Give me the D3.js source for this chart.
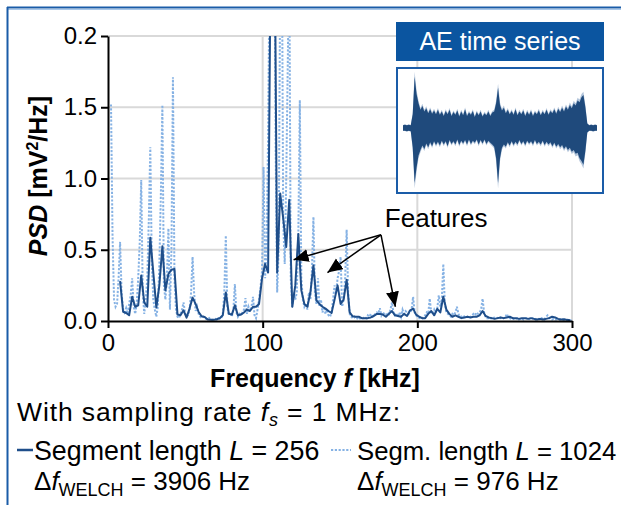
<!DOCTYPE html>
<html><head><meta charset="utf-8">
<script src="https://cdn.jsdelivr.net/npm/d3@7"></script>
<style>
html,body{margin:0;padding:0;background:#fff;}
svg{display:block;font-family:"Liberation Sans",Arial,sans-serif;}
</style></head>
<body><svg id="c" width="621" height="505"></svg>
<script>
// ---------- data ----------
// solid series (L = 256): bins k*1.953 kHz, starting at k = 4
const solidStartBin = 4;
const solidBinKHz = 1000/512;
const solidValues = [
 0.28,0.065,0.056,0.04,0.17,0.10,0.11,0.32,0.13,0.10,
 0.585,0.34,0.094,0.25,0.525,0.215,0.33,0.36,0.365,0.045,
 0.04,0.075,0.023,0.087,0.164,0.12,0.063,0.033,0.028,0.01,
 0.008,0.008,0.012,0.02,0.04,0.2,0.05,0.045,0.11,0.04,
 0.045,0.06,0.08,0.07,0.1,0.1,0.12,0.30,0.40,0.34,
 3.0,3.2,0.34,0.895,0.72,0.52,0.85,0.10,0.25,0.61,
 0.215,0.12,0.10,0.2,0.39,0.145,0.12,0.1,0.087,0.07,
 0.056,0.15,0.25,0.12,0.15,0.29,0.06,0.033,0.03,0.03,
 0.02,0.02,0.02,0.025,0.035,0.05,0.05,0.045,0.03,0.05,
 0.07,0.04,0.035,0.03,0.05,0.035,0.075,0.087,0.045,0.03,
 0.02,0.02,0.05,0.07,0.04,0.085,0.06,0.17,0.08,0.05,
 0.03,0.04,0.03,0.02,0.025,0.03,0.025,0.03,0.03,0.04,
 0.07,0.035,0.025,0.02,0.015,0.02,0.025,0.02,0.025,0.03,
 0.02,0.02,0.015,0.02,0.02,0.015,0.02,0.015,0.01,0.015,
 0.01,0.015,0.02,0.03,0.025,0.015,0.01,0.012,0.008,0.006
];
// dotted series (L = 1024): bins i*0.977 kHz, starting at i = 2
const dottedStartBin = 2;
const dottedBinKHz = 1000/1024;
const dottedValues = [
 1.52,0.6,0.15,0.10,0.12,0.3,0.555,0.2,
 0.08,0.06,0.09,0.05,0.12,0.18,0.30,0.1,0.05,0.12,
 0.3,0.55,0.99,0.2,0.05,0.15,0.3,0.7,1.22,0.4,
 0.15,0.08,0.03,0.1,0.4,0.89,1.515,0.25,0.15,0.3,
 0.65,0.08,0.5,1.71,0.3,0.08,0.03,0.02,0.05,0.08,
 0.13,0.06,0.03,0.04,0.08,0.2,0.45,0.2,0.07,0.1,
 0.05,0.03,0.02,0.03,0.02,0.015,0.01,0.02,0.01,0.008,
 0.01,0.015,0.01,0.02,0.015,0.02,0.05,0.2,0.6,0.1,
 0.04,0.06,0.03,0.08,0.26,0.06,0.03,0.05,0.04,0.06,
 0.08,0.16,0.05,0.1,0.07,0.1,0.17,0.04,0.02,0.08,
 0.15,0.24,0.35,1.08,0.3,0.52,1.3,2.5,3.0,2.2,
 3.0,1.2,0.2,0.5,2.4,3.0,0.7,0.4,0.99,1.8,
 2.6,0.3,0.1,0.2,0.15,0.2,0.6,1.55,0.3,0.15,
 0.1,0.12,0.08,0.2,0.15,0.35,0.73,0.2,0.12,0.3,
 0.1,0.15,0.06,0.1,0.05,0.08,0.04,0.03,0.06,0.15,
 0.25,0.2,0.3,0.35,0.45,0.1,0.15,0.3,0.64,0.2,
 0.05,0.03,0.02,0.03,0.015,0.02,0.01,0.02,0.015,0.02,
 0.03,0.02,0.04,0.03,0.05,0.03,0.04,0.05,0.06,0.05,
 0.09,0.04,0.06,0.05,0.04,0.06,0.05,0.08,0.13,0.06,
 0.04,0.05,0.04,0.06,0.03,0.08,0.05,0.07,0.06,0.05,
 0.06,0.08,0.17,0.06,0.04,0.03,0.02,0.03,0.02,0.03,
 0.04,0.06,0.05,0.157,0.06,0.05,0.08,0.06,0.09,0.18,
 0.1,0.15,0.40,0.12,0.06,0.05,0.04,0.03,0.05,0.04,
 0.06,0.10,0.05,0.03,0.03,0.04,0.03,0.025,0.03,0.02,
 0.03,0.04,0.05,0.04,0.06,0.05,0.06,0.08,0.157,0.06,
 0.03,0.02,0.02,0.015,0.02,0.03,0.02,0.025,0.02,0.03,
 0.02,0.015,0.02,0.025,0.05,0.03,0.02,0.015,0.02,0.01,
 0.015,0.02,0.01,0.015,0.02,0.01,0.015,0.02,0.01,0.015,
 0.01,0.02,0.015,0.01,0.02,0.015,0.01,0.02,0.015,0.01,
 0.03,0.04,0.02,0.015,0.01,0.015,0.01,0.012,0.008,0.01,
 0.008,0.01,0.006,0.008,0.005,0.007,0.005,0.004
];
const xTicks = [0,100,200,300];
const xTickLabels = ["0","100","200","300"];
const yTicks = [0,0.5,1.0,1.5,2.0];
const yTickLabels = ["0.0","0.5","1.0","1.5","0.2"];
// inset AE time series envelope (upper / lower magnitude)
const waveUpper = [0.05,0.06,0.05,0.06,0.05,0.25,0.93,0.62,0.45,0.33,0.4,0.3,0.36,0.27,0.34,0.26,0.32,0.25,0.33,0.24,
 0.3,0.22,0.31,0.25,0.33,0.22,0.29,0.24,0.32,0.21,0.3,0.23,0.34,0.22,0.28,0.24,0.31,0.2,0.29,0.23,
 0.3,0.21,0.27,0.23,0.3,0.22,0.28,0.3,0.45,0.73,0.42,0.32,0.37,0.27,0.33,0.25,0.31,0.24,0.34,0.23,
 0.3,0.25,0.32,0.22,0.3,0.24,0.31,0.22,0.29,0.25,0.32,0.23,0.3,0.25,0.33,0.24,0.31,0.27,0.34,0.26,
 0.35,0.29,0.37,0.3,0.39,0.33,0.42,0.36,0.45,0.41,0.5,0.47,0.56,0.6,0.38,0.08,0.05,0.06,0.05,0.06,0.05];
const waveLower = [0.05,0.05,0.06,0.05,0.06,0.35,1.0,0.72,0.5,0.4,0.32,0.38,0.28,0.35,0.26,0.33,0.24,0.31,0.25,0.32,
 0.23,0.3,0.24,0.33,0.22,0.29,0.24,0.3,0.21,0.31,0.23,0.28,0.22,0.3,0.21,0.29,0.23,0.27,0.21,0.3,
 0.22,0.28,0.21,0.29,0.23,0.27,0.3,0.34,0.55,1.0,0.55,0.36,0.3,0.34,0.26,0.32,0.24,0.31,0.25,0.3,
 0.22,0.29,0.24,0.31,0.23,0.28,0.24,0.3,0.22,0.29,0.25,0.3,0.23,0.31,0.25,0.3,0.26,0.33,0.27,0.34,
 0.29,0.35,0.31,0.38,0.33,0.4,0.36,0.43,0.4,0.47,0.45,0.55,0.6,0.67,0.42,0.08,0.05,0.05,0.06,0.05,0.05];
const featureLabel = "Features";
const featureTextPos = {f:179, v:0.66};
const featureFrom = {f:176.5, v:0.605};
const featureTargets = [{f:120,v:0.43},{f:141.9,v:0.34},{f:185.8,v:0.10}];

// ---------- setup ----------
const svg = d3.select("#c");
const C_SOLID = "#1f4e8a", C_DOT = "#86b2e4", C_FRAME = "#1a5ca8", FONT = 24;
const x = d3.scaleLinear().domain([0,300]).range([108,572]);
const y = d3.scaleLinear().domain([0,2]).range([321,36]);

// frame
svg.append("line").attr("x1",7).attr("x2",621).attr("y1",7.5).attr("y2",7.5).attr("stroke",C_FRAME).attr("stroke-width",2);
svg.append("line").attr("x1",7).attr("x2",621).attr("y1",9.5).attr("y2",9.5).attr("stroke","#a9c8ea").attr("stroke-width",1);
svg.append("line").attr("x1",7.5).attr("x2",7.5).attr("y1",7).attr("y2",505).attr("stroke",C_FRAME).attr("stroke-width",2);

// grid
const g = svg.append("g");
g.selectAll(".hg").data(yTicks.slice(1)).join("line")
 .attr("x1",x(0)).attr("x2",x(300)).attr("y1",d=>y(d)).attr("y2",d=>y(d))
 .attr("stroke","#d9d9d9").attr("stroke-width",2);
g.selectAll(".vg").data(xTicks.slice(1)).join("line")
 .attr("x1",d=>x(d)).attr("x2",d=>x(d)).attr("y1",y(0)).attr("y2",y(2))
 .attr("stroke","#d9d9d9").attr("stroke-width",2);

// clip
svg.append("clipPath").attr("id","pc").append("rect")
 .attr("x",x(0)).attr("y",y(2)).attr("width",x(300)-x(0)).attr("height",y(0)-y(2));

const dotted = dottedValues.map((v,i)=>({f:(i+dottedStartBin)*dottedBinKHz, v}));
const solid = solidValues.map((v,i)=>({f:(i+solidStartBin)*solidBinKHz, v}));
const line = d3.line().x(d=>x(d.f)).y(d=>y(d.v));
const pg = svg.append("g").attr("clip-path","url(#pc)");
pg.append("path").attr("d",line(dotted)).attr("fill","none").attr("stroke",C_DOT)
 .attr("stroke-width",2).attr("stroke-dasharray","2.2,1.6");
pg.append("path").attr("d",line(solid)).attr("fill","none").attr("stroke",C_SOLID)
 .attr("stroke-width",2).attr("stroke-linejoin","round");

// axes
const ax = svg.append("g").attr("transform",`translate(0,${y(0)})`)
 .call(d3.axisBottom(x).tickValues(xTicks).tickFormat((d,i)=>xTickLabels[i]).tickSize(7).tickSizeOuter(0).tickPadding(6));
const ay = svg.append("g").attr("transform",`translate(${x(0)},0)`)
 .call(d3.axisLeft(y).tickValues(yTicks).tickFormat((d,i)=>yTickLabels[i]).tickSize(7).tickSizeOuter(0).tickPadding(4));
[ax,ay].forEach(a=>{
  a.select(".domain").attr("stroke","#000").attr("stroke-width",2);
  a.selectAll(".tick line").attr("stroke","#000").attr("stroke-width",2);
  a.selectAll("text").attr("font-size",FONT).attr("fill","#000").attr("font-family","'Liberation Sans',Arial,sans-serif");
});

// axis titles
svg.append("text").attr("x",315).attr("y",387).attr("text-anchor","middle")
 .attr("font-size",25).attr("font-weight","bold")
 .call(t=>{t.append("tspan").text("Frequency ");t.append("tspan").attr("font-style","italic").text("f");t.append("tspan").text(" [kHz]");});
svg.append("text").attr("transform","translate(47,176) rotate(-90)").attr("text-anchor","middle")
 .attr("font-size",25).attr("font-weight","bold")
 .call(t=>{t.append("tspan").attr("font-style","italic").text("PSD");t.append("tspan").text(" [mV");
   t.append("tspan").attr("font-size",16).attr("dy",-9).text("2");
   t.append("tspan").attr("dy",9).text("/Hz]");});

// annotation
const defs = svg.append("defs");
defs.append("marker").attr("id","ah").attr("markerUnits","userSpaceOnUse")
 .attr("markerWidth",16).attr("markerHeight",14).attr("refX",15).attr("refY",6.5).attr("orient","auto")
 .append("path").attr("d","M0,0 L15,6.5 L0,13 Z").attr("fill","#000");
svg.selectAll(".arr").data(featureTargets).join("line")
 .attr("x1",x(featureFrom.f)).attr("y1",y(featureFrom.v))
 .attr("x2",d=>x(d.f)).attr("y2",d=>y(d.v))
 .attr("stroke","#000").attr("stroke-width",1.5).attr("marker-end","url(#ah)");
svg.append("text").attr("x",x(featureTextPos.f)).attr("y",y(featureTextPos.v))
 .attr("font-size",26).text(featureLabel);

// inset
const ins = svg.append("g");
ins.append("rect").attr("x",396).attr("y",22).attr("width",208).attr("height",39).attr("fill","#0b55a0");
ins.append("text").attr("x",500).attr("y",50).attr("text-anchor","middle").attr("fill","#fff")
 .attr("font-size",25).text("AE time series");
ins.append("rect").attr("x",397).attr("y",68).attr("width",206).attr("height",125)
 .attr("fill","#fff").attr("stroke",C_FRAME).attr("stroke-width",2);
const wx = d3.scaleLinear().domain([0,waveUpper.length-1]).range([403,597]);
const wy = d3.scaleLinear().domain([-1,1]).range([183,73]);
const waveData = waveUpper.map((u,i)=>({i,u,l:waveLower[i]}));
ins.append("path").datum(waveData)
 .attr("d",d3.area().x(d=>wx(d.i)).y0(d=>wy(-d.l*1.1)).y1(d=>wy(d.u*1.1)))
 .attr("fill","#7f9cc2").attr("opacity",0.6);
ins.append("path").datum(waveData)
 .attr("d",d3.area().x(d=>wx(d.i)).y0(d=>wy(-d.l)).y1(d=>wy(d.u)))
 .attr("fill","#1f4a7c");

// legend / notes
const fs = 26;
svg.append("text").attr("x",17).attr("y",421).attr("font-size",26.5)
 .attr("textLength",383).attr("lengthAdjust","spacing")
 .call(t=>{t.append("tspan").text("With sampling rate ");
   t.append("tspan").attr("font-style","italic").text("f");
   t.append("tspan").attr("font-style","italic").attr("font-size",18).attr("dy",5).text("s");
   t.append("tspan").attr("dy",-5).text(" = 1 MHz:");});
svg.append("line").attr("x1",17).attr("x2",33).attr("y1",450).attr("y2",450).attr("stroke",C_SOLID).attr("stroke-width",2.5);
svg.append("line").attr("x1",331).attr("x2",351).attr("y1",450).attr("y2",450).attr("stroke",C_DOT).attr("stroke-width",2).attr("stroke-dasharray","2.2,1.6");
function legText(x0, y0, pre, post, size){
  svg.append("text").attr("x",x0).attr("y",y0).attr("font-size",size)
   .call(t=>{t.append("tspan").text(pre);t.append("tspan").attr("font-style","italic").text("L");t.append("tspan").text(post);});
}
legText(34,460,"Segment length "," = 256",26.8);
legText(357,460,"Segm. length "," = 1024",25.7);
function dfText(x0,y0,post){
  svg.append("text").attr("x",x0).attr("y",y0).attr("font-size",fs)
   .call(t=>{t.append("tspan").text("Δ");t.append("tspan").attr("font-style","italic").text("f");
     t.append("tspan").attr("font-size",18).attr("dy",6).text("WELCH");
     t.append("tspan").attr("dy",-6).text(post);});
}
dfText(34,490," = 3906 Hz");
dfText(357,490," = 976 Hz");
</script></body></html>
